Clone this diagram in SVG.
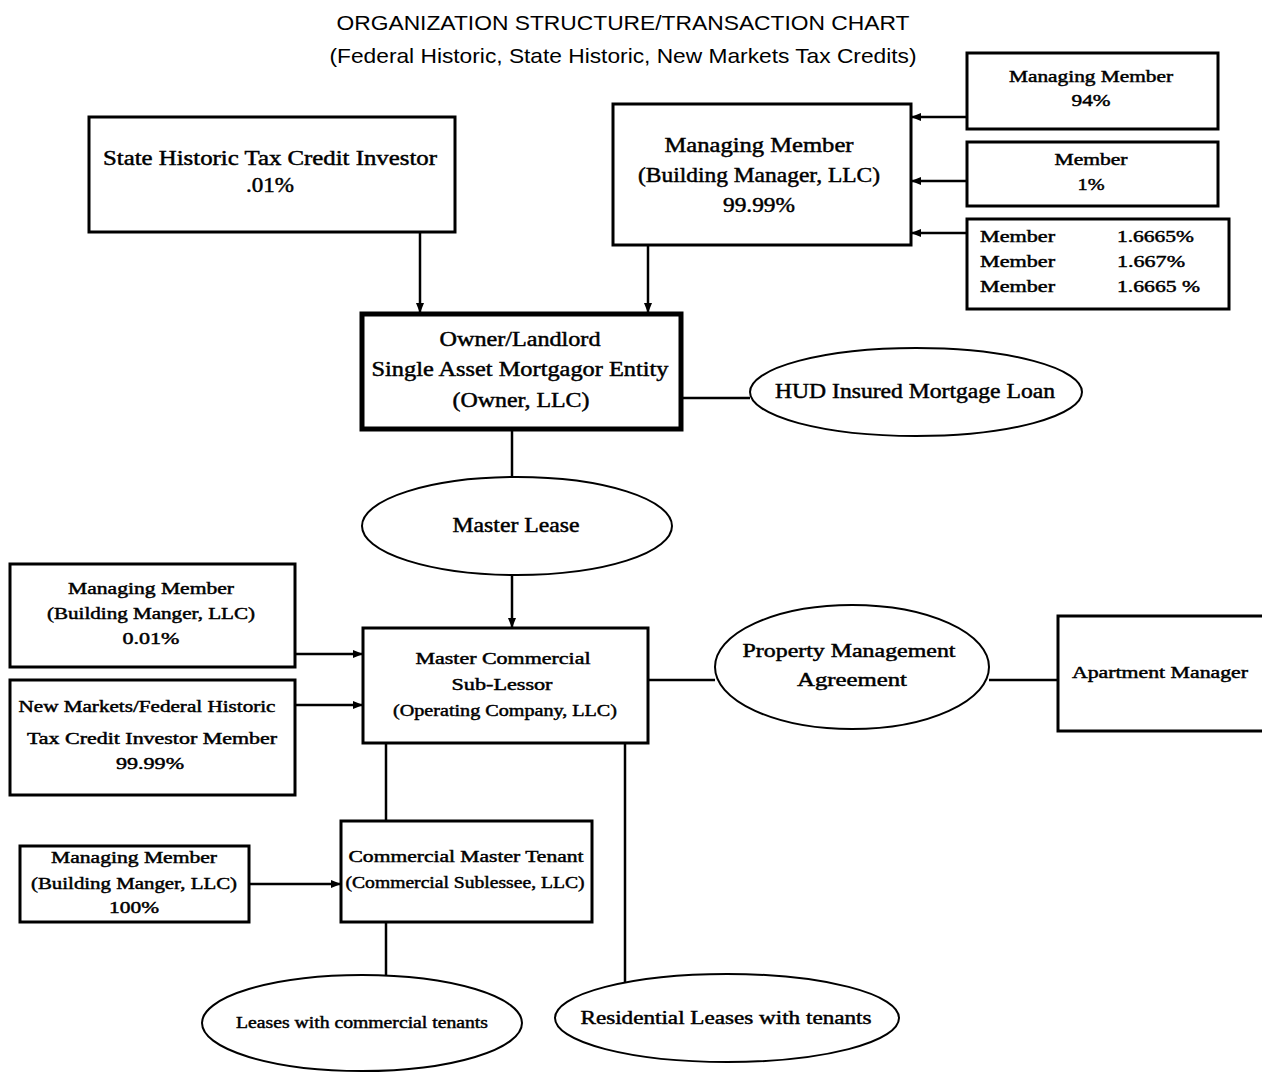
<svg xmlns="http://www.w3.org/2000/svg" width="1262" height="1074" viewBox="0 0 1262 1074">
<style>
.box{fill:#fff;stroke:#000;stroke-width:3}
.thick{fill:#fff;stroke:#000;stroke-width:5}
.ell{fill:#fff;stroke:#000;stroke-width:2}
.ln{fill:none;stroke:#000;stroke-width:2.5}
.t{font-family:"Liberation Serif",serif;fill:#000;text-anchor:middle;stroke:#000;stroke-width:0.45}
.st{text-anchor:start}
.l{font-size:20px}
.m{font-size:18px}
.s{font-size:16px}
.title{font-family:"Liberation Sans",sans-serif;font-size:21px;fill:#000;text-anchor:middle}
</style>
<defs>
<marker id="ah" viewBox="0 0 10 10" refX="10" refY="5" markerWidth="4" markerHeight="4" orient="auto" markerUnits="strokeWidth">
<path d="M0,1 L10,5 L0,9 z" fill="#000"/>
</marker>
</defs>
<rect width="1262" height="1074" fill="#fff"/>
<g id="title">
<text class="title" x="623" y="30" textLength="573" lengthAdjust="spacingAndGlyphs">ORGANIZATION STRUCTURE/TRANSACTION CHART</text>
<text class="title" x="623" y="63" textLength="587" lengthAdjust="spacingAndGlyphs">(Federal Historic, State Historic, New Markets Tax Credits)</text>
</g>
<g id="connectors">
<line class="ln" x1="967" y1="117" x2="911" y2="117" marker-end="url(#ah)"/>
<line class="ln" x1="967" y1="181" x2="911" y2="181" marker-end="url(#ah)"/>
<line class="ln" x1="967" y1="233" x2="911" y2="233" marker-end="url(#ah)"/>
<line class="ln" x1="420" y1="232" x2="420" y2="313" marker-end="url(#ah)"/>
<line class="ln" x1="648" y1="245" x2="648" y2="313" marker-end="url(#ah)"/>
<line class="ln" x1="682" y1="398" x2="750" y2="398"/>
<line class="ln" x1="512" y1="430" x2="512" y2="477"/>
<line class="ln" x1="512" y1="575" x2="512" y2="628" marker-end="url(#ah)"/>
<line class="ln" x1="295" y1="654" x2="363" y2="654" marker-end="url(#ah)"/>
<line class="ln" x1="295" y1="705" x2="363" y2="705" marker-end="url(#ah)"/>
<line class="ln" x1="648" y1="680" x2="715" y2="680"/>
<line class="ln" x1="989" y1="680" x2="1058" y2="680"/>
<line class="ln" x1="386" y1="743" x2="386" y2="821"/>
<line class="ln" x1="249" y1="884" x2="341" y2="884" marker-end="url(#ah)"/>
<line class="ln" x1="386" y1="922" x2="386" y2="975"/>
<line class="ln" x1="625" y1="743" x2="625" y2="985"/>
</g>
<g id="state-historic">
<rect class="box" x="89" y="117" width="366" height="115"/>
<text class="t l" x="270" y="165" textLength="334" lengthAdjust="spacingAndGlyphs">State Historic Tax Credit Investor</text>
<text class="t l" x="270" y="192" textLength="48" lengthAdjust="spacingAndGlyphs">.01%</text>
</g>
<g id="managing-member-main">
<rect class="box" x="613" y="104" width="298" height="141"/>
<text class="t l" x="759" y="152" textLength="189" lengthAdjust="spacingAndGlyphs">Managing Member</text>
<text class="t l" x="759" y="182" textLength="242" lengthAdjust="spacingAndGlyphs">(Building Manager, LLC)</text>
<text class="t l" x="759" y="212" textLength="72" lengthAdjust="spacingAndGlyphs">99.99%</text>
</g>
<g id="mm-94">
<rect class="box" x="967" y="53" width="251" height="76"/>
<text class="t s" x="1091" y="82" textLength="164" lengthAdjust="spacingAndGlyphs">Managing Member</text>
<text class="t s" x="1091" y="106" textLength="39" lengthAdjust="spacingAndGlyphs">94%</text>
</g>
<g id="member-1">
<rect class="box" x="967" y="142" width="251" height="64"/>
<text class="t s" x="1091" y="165" textLength="73" lengthAdjust="spacingAndGlyphs">Member</text>
<text class="t s" x="1091" y="190" textLength="27" lengthAdjust="spacingAndGlyphs">1%</text>
</g>
<g id="members-table">
<rect class="box" x="967" y="219" width="262" height="90"/>
<text class="t s st" x="980" y="242" textLength="75" lengthAdjust="spacingAndGlyphs">Member</text>
<text class="t s st" x="980" y="267" textLength="75" lengthAdjust="spacingAndGlyphs">Member</text>
<text class="t s st" x="980" y="292" textLength="75" lengthAdjust="spacingAndGlyphs">Member</text>
<text class="t s st" x="1117" y="242" textLength="77" lengthAdjust="spacingAndGlyphs">1.6665%</text>
<text class="t s st" x="1117" y="267" textLength="68" lengthAdjust="spacingAndGlyphs">1.667%</text>
<text class="t s st" x="1117" y="292" textLength="83" lengthAdjust="spacingAndGlyphs">1.6665 %</text>
</g>
<g id="owner">
<rect class="thick" x="362" y="314" width="319" height="115"/>
<text class="t l" x="520" y="346" textLength="161" lengthAdjust="spacingAndGlyphs">Owner/Landlord</text>
<text class="t l" x="520" y="376" textLength="297" lengthAdjust="spacingAndGlyphs">Single Asset Mortgagor Entity</text>
<text class="t l" x="521" y="407" textLength="137" lengthAdjust="spacingAndGlyphs">(Owner, LLC)</text>
</g>
<g id="hud">
<ellipse class="ell" cx="916" cy="392" rx="166" ry="44"/>
<text class="t l" x="915" y="398" textLength="280" lengthAdjust="spacingAndGlyphs">HUD Insured Mortgage Loan</text>
</g>
<g id="master-lease">
<ellipse class="ell" cx="517" cy="526" rx="155" ry="49"/>
<text class="t l" x="516" y="532" textLength="127" lengthAdjust="spacingAndGlyphs">Master Lease</text>
</g>
<g id="mm-001">
<rect class="box" x="10" y="564" width="285" height="103"/>
<text class="t s" x="151" y="594" textLength="166" lengthAdjust="spacingAndGlyphs">Managing Member</text>
<text class="t s" x="151" y="619" textLength="208" lengthAdjust="spacingAndGlyphs">(Building Manger, LLC)</text>
<text class="t s" x="151" y="644" textLength="57" lengthAdjust="spacingAndGlyphs">0.01%</text>
</g>
<g id="nm-investor">
<rect class="box" x="10" y="680" width="285" height="115"/>
<text class="t s" x="147" y="712" textLength="257" lengthAdjust="spacingAndGlyphs">New Markets/Federal Historic</text>
<text class="t s" x="152" y="744" textLength="250" lengthAdjust="spacingAndGlyphs">Tax Credit Investor Member</text>
<text class="t s" x="150" y="769" textLength="68" lengthAdjust="spacingAndGlyphs">99.99%</text>
</g>
<g id="master-commercial">
<rect class="box" x="363" y="628" width="285" height="115"/>
<text class="t s" x="503" y="664" textLength="175" lengthAdjust="spacingAndGlyphs">Master Commercial</text>
<text class="t s" x="502" y="690" textLength="101" lengthAdjust="spacingAndGlyphs">Sub-Lessor</text>
<text class="t s" x="505" y="716" textLength="224" lengthAdjust="spacingAndGlyphs">(Operating Company, LLC)</text>
</g>
<g id="pma">
<ellipse class="ell" cx="852" cy="667" rx="137" ry="62"/>
<text class="t m" x="849" y="657" textLength="213" lengthAdjust="spacingAndGlyphs">Property Management</text>
<text class="t m" x="852" y="686" textLength="110" lengthAdjust="spacingAndGlyphs">Agreement</text>
</g>
<g id="apt-manager">
<rect class="box" x="1058" y="616" width="210" height="115"/>
<text class="t s" x="1160" y="678" textLength="176" lengthAdjust="spacingAndGlyphs">Apartment Manager</text>
</g>
<g id="cmt">
<rect class="box" x="341" y="821" width="251" height="101"/>
<text class="t s" x="466" y="862" textLength="235" lengthAdjust="spacingAndGlyphs">Commercial Master Tenant</text>
<text class="t s" x="465" y="888" textLength="239" lengthAdjust="spacingAndGlyphs">(Commercial Sublessee, LLC)</text>
</g>
<g id="mm-100">
<rect class="box" x="20" y="846" width="229" height="76"/>
<text class="t s" x="134" y="863" textLength="166" lengthAdjust="spacingAndGlyphs">Managing Member</text>
<text class="t s" x="134" y="889" textLength="206" lengthAdjust="spacingAndGlyphs">(Building Manger, LLC)</text>
<text class="t s" x="134" y="913" textLength="50" lengthAdjust="spacingAndGlyphs">100%</text>
</g>
<g id="commercial-leases">
<ellipse class="ell" cx="362" cy="1023" rx="160" ry="48"/>
<text class="t s" x="362" y="1028" textLength="252" lengthAdjust="spacingAndGlyphs">Leases with commercial tenants</text>
</g>
<g id="residential-leases">
<ellipse class="ell" cx="727" cy="1018" rx="172" ry="44"/>
<text class="t m" x="726" y="1024" textLength="291" lengthAdjust="spacingAndGlyphs">Residential Leases with tenants</text>
</g>
</svg>
